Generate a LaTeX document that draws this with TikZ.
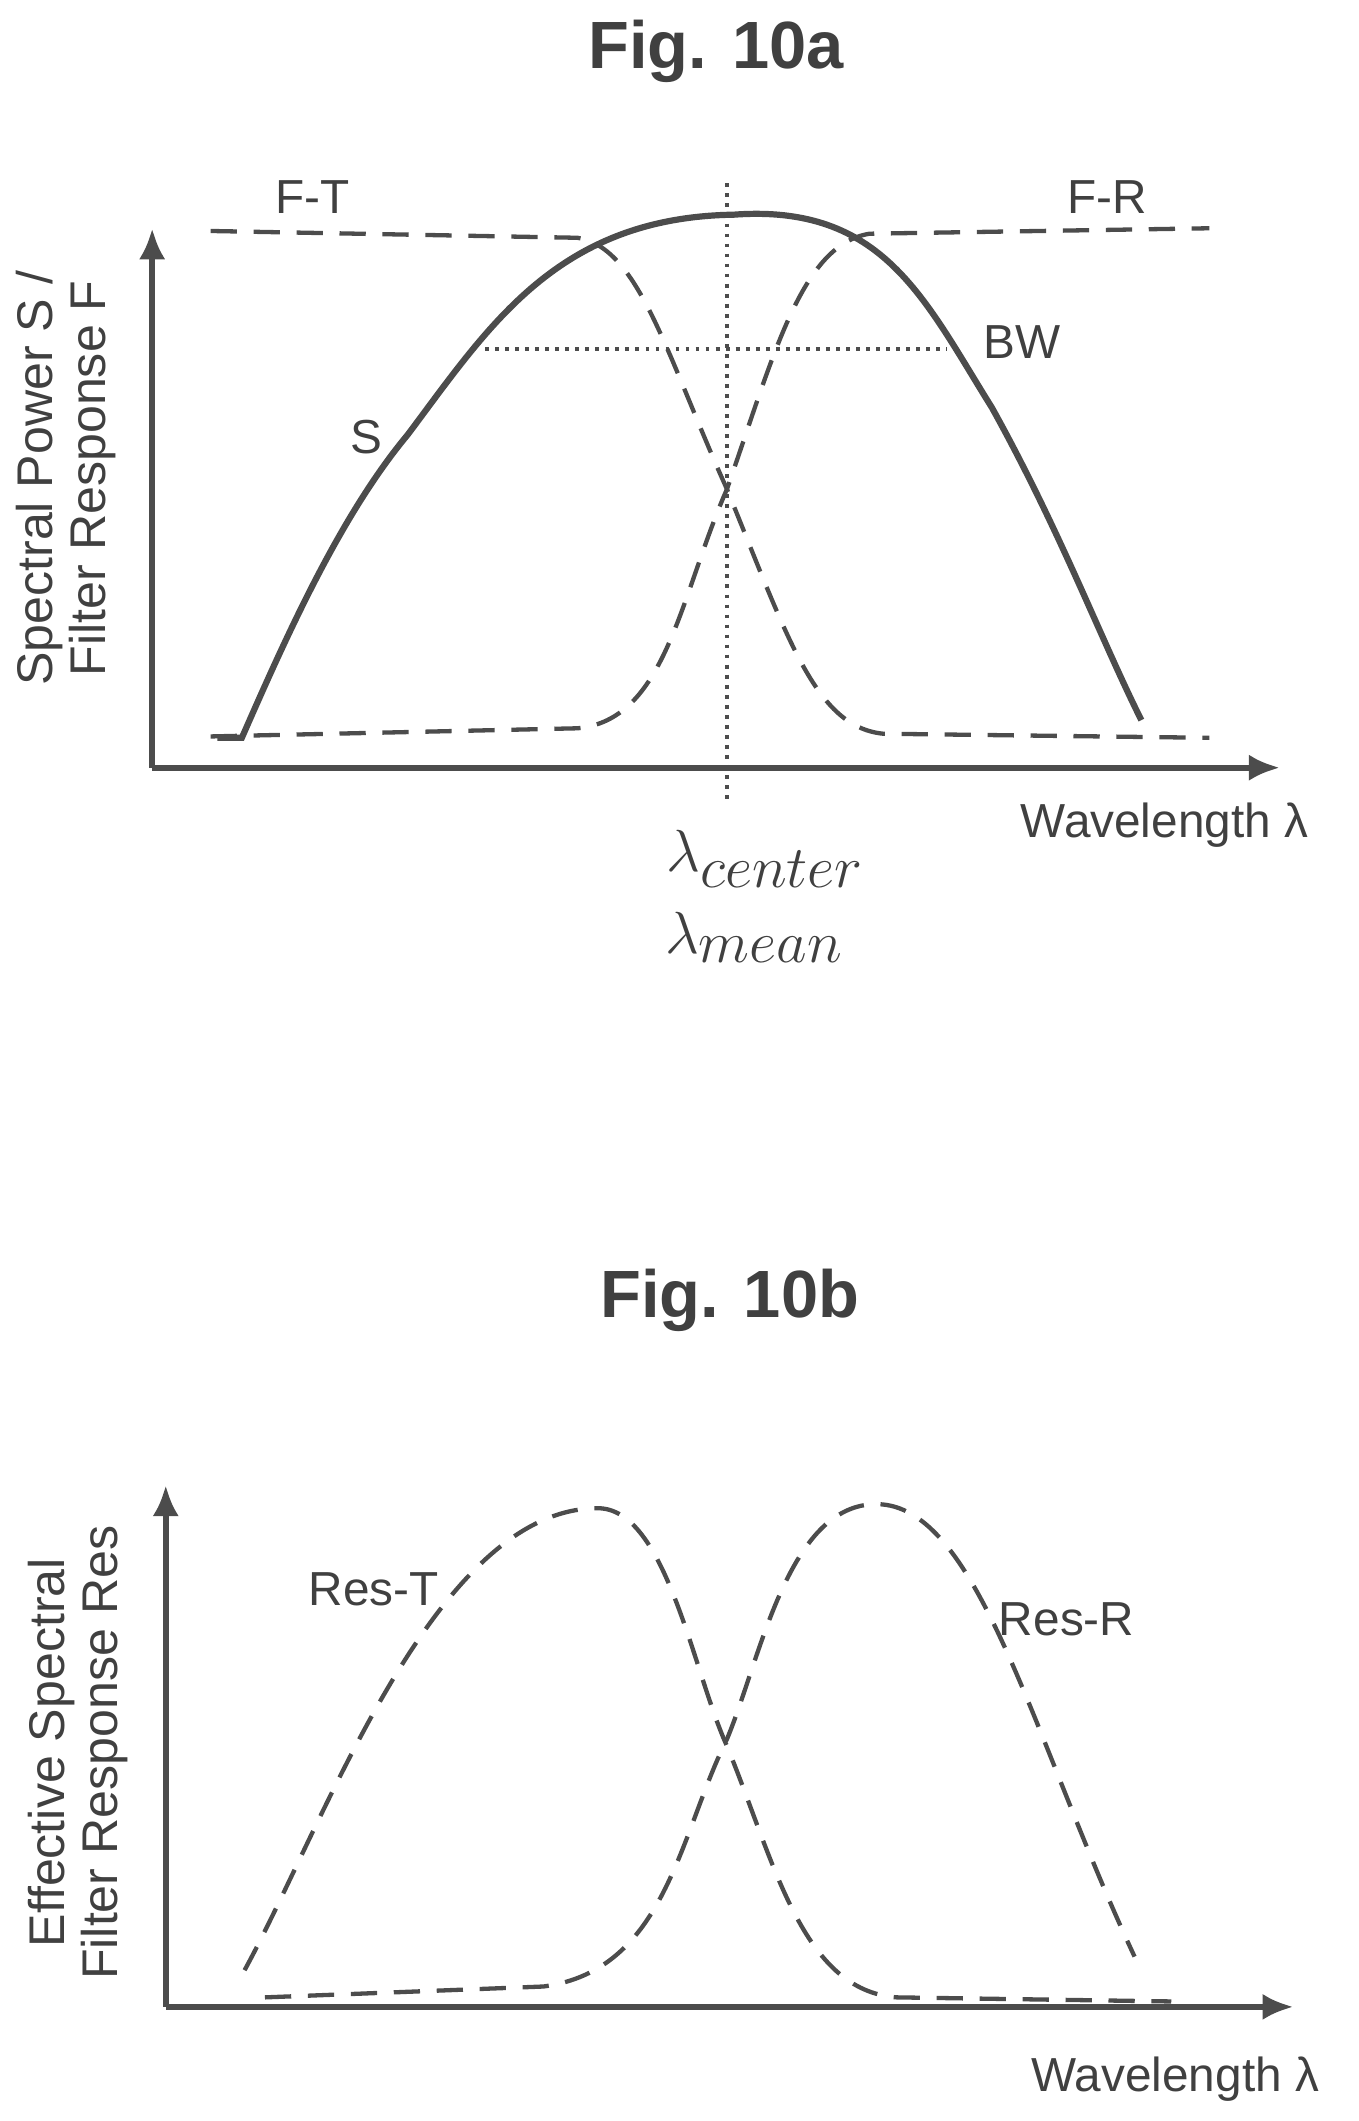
\documentclass[tikz,border=0pt]{standalone}
\usepackage{fontspec}
\setmainfont{Liberation Sans}
\usetikzlibrary{arrows.meta}
\begin{document}
\begin{tikzpicture}[x=0.02cm,y=-0.02cm]
  \tikzset{
    axis/.style = {line width=2.4pt, color=black!70, -{Latex[length=13pt,width=11pt]}},
    resp/.style = {line width=1.8pt, color=black!70, dash pattern=on 11pt off 7pt},
    spec/.style = {line width=2.6pt, color=black!70},
    guide/.style = {line width=1.8pt, color=black!70, dash pattern=on 1.6pt off 2.6pt},
    lbl/.style = {font=\fontsize{20}{24}\selectfont, text=black!75},
    ylbl/.style = {font=\fontsize{21}{25}\selectfont, text=black!75, rotate=90},
    sym/.style = {font=\fontsize{33}{38}\selectfont, text=black!75},
    title/.style = {font=\fontsize{28}{32}\selectfont\bfseries, text=black!75}
  }
  \useasboundingbox (0,0) rectangle (1000,1561);

  % Fig. 10a
  \node[title] (ta) at (527,38) {Fig. 10a};
  \coordinate (oa) at (112,565);
  \coordinate (ya) at (112,168);
  \coordinate (xa) at (942,565);
  \draw[axis] (oa) -- (ya);
  \draw[axis] (oa) -- (xa);

  \draw[resp] (155,170) -- (425,175) .. controls (470,182) and (490,260) .. (535,360)
     .. controls (580,470) and (600,535) .. (650,540) -- (890,543);
  \draw[resp] (155,542) -- (425,536) .. controls (490,530) and (500,440) .. (535,360)
     .. controls (570,260) and (590,180) .. (640,172) -- (890,168);

  \draw[spec] (160,543) -- (178,543) .. controls (210,470) and (250,380) .. (300,320)
     .. controls (360,240) and (410,160) .. (540,158)
     .. controls (650,150) and (680,220) .. (730,300)
     .. controls (780,390) and (810,470) .. (840,530);

  \draw[guide] (535,135) -- (535,592);
  \draw[guide] (357,257) -- (697,257);

  \node[lbl] (ft) at (230,145) {F-T};
  \node[lbl] (fr) at (815,145) {F-R};
  \node[lbl] (s) at (270,322) {S};
  \node[lbl] (bw) at (752,252) {BW};
  \node[lbl] (wa) at (857,607) {Wavelength λ};
  \node[sym] (lc) at (563,632) {$\lambda_{center}$};
  \node[sym] (lm) at (555,690) {$\lambda_{mean}$};
  \node[ylbl] (yla) at (29,352) {Spectral Power S /};
  \node[ylbl] (ylb) at (68,352) {Filter Response F};

  % Fig. 10b
  \node[title] (tb) at (537,957) {Fig. 10b};
  \coordinate (ob) at (122,1477);
  \coordinate (yb) at (122,1093);
  \coordinate (xb) at (952,1477);
  \draw[axis] (ob) -- (yb);
  \draw[axis] (ob) -- (xb);

  \draw[resp] (180,1450) .. controls (240,1340) and (320,1110) .. (440,1110)
     .. controls (490,1110) and (510,1230) .. (535,1285)
     .. controls (570,1370) and (590,1465) .. (660,1470) -- (862,1473);
  \draw[resp] (195,1470) -- (400,1462) .. controls (490,1450) and (500,1350) .. (535,1280)
     .. controls (560,1220) and (580,1107) .. (645,1107)
     .. controls (720,1107) and (760,1280) .. (835,1440);

  \node[lbl] (rt) at (275,1170) {Res-T};
  \node[lbl] (rr) at (785,1192) {Res-R};
  \node[lbl] (wb) at (865,1530) {Wavelength λ};
  \node[ylbl] (ylc) at (38,1290) {Effective Spectral};
  \node[ylbl] (yld) at (77,1290) {Filter Response Res};
\end{tikzpicture}
\end{document}
